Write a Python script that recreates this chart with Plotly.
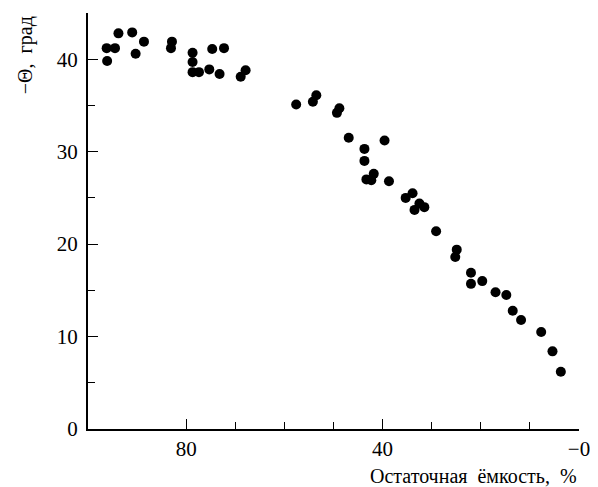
import plotly.graph_objects as go

# Data (residual capacity %, -Theta in degrees)
capacity = [96.2, 94.5, 96.1, 93.8, 91.0, 88.6, 90.3, 82.9, 83.1, 78.7,
            78.7, 78.7, 77.4, 75.3, 74.7, 72.3, 73.2, 68.9, 67.9,
            57.6, 54.2, 53.5, 49.3, 48.8, 46.9, 39.6, 43.7, 43.7, 41.8,
            43.3, 42.3, 38.7, 35.3, 33.9, 32.5, 31.5, 33.5, 29.1, 24.9,
            25.2, 22.0, 22.0, 19.7, 17.0, 14.8, 13.5, 11.8, 7.7, 5.4, 3.7]
theta = [41.2, 41.2, 39.8, 42.8, 42.9, 41.9, 40.6, 41.9, 41.2, 40.7,
         39.7, 38.6, 38.6, 38.9, 41.1, 41.2, 38.4, 38.1, 38.8,
         35.1, 35.4, 36.1, 34.2, 34.7, 31.5, 31.2, 30.3, 29.0, 27.6,
         27.0, 26.9, 26.8, 25.0, 25.5, 24.4, 24.0, 23.7, 21.4, 19.4,
         18.6, 16.9, 15.7, 16.0, 14.8, 14.5, 12.8, 11.8, 10.5, 8.4, 6.2]

x_tickvals = [80, 40, 0]
x_ticktext = ["80", "40", "\u22120"]
x_minor = [70, 60, 50, 30, 20, 10]
y_tickvals = [0, 10, 20, 30, 40]
y_minor = [5, 15, 25, 35]

FONT = "Liberation Serif"

fig = go.Figure(go.Scatter(
    x=capacity, y=theta, mode="markers",
    marker=dict(color="black", size=10),
    cliponaxis=False,
))

fig.update_layout(
    width=590, height=479,
    margin=dict(l=80, r=18.5, t=5, b=58.3),
    paper_bgcolor="white", plot_bgcolor="white",
    showlegend=False,
)

fig.update_xaxes(
    range=[100, 0], autorange=False,
    showgrid=False, zeroline=False,
    showline=True, linecolor="black", linewidth=2,
    ticks="inside", ticklen=10, tickwidth=1, tickcolor="black",
    tickmode="array", tickvals=x_tickvals, ticktext=x_ticktext,
    tickfont=dict(family=FONT, size=21, color="black"),
    minor=dict(tickmode="array", tickvals=x_minor, ticks="inside",
               ticklen=7, tickwidth=1, tickcolor="black", showgrid=False),
)
fig.update_yaxes(
    range=[0, 45], autorange=False,
    showgrid=False, zeroline=False,
    showline=True, linecolor="black", linewidth=2,
    ticks="inside", ticklen=10, tickwidth=1, tickcolor="black",
    tickmode="array", tickvals=y_tickvals,
    tickfont=dict(family=FONT, size=21, color="black"),
    ticklabelstandoff=4,
    minor=dict(tickmode="array", tickvals=y_minor, ticks="inside",
               ticklen=7, tickwidth=1, tickcolor="black", showgrid=False),
)

fig.add_annotation(
    text="Остаточная\u00a0\u00a0ёмкость,\u00a0\u00a0%",
    xref="paper", yref="paper", x=1, y=0,
    xanchor="right", yanchor="middle", yshift=-47,
    showarrow=False, font=dict(family=FONT, size=20, color="black"),
)
fig.add_annotation(
    text="\u2212\u0398,\u00a0\u00a0град",
    xref="paper", yref="paper", x=-0.128, y=0.899,
    xanchor="center", yanchor="middle", textangle=-90,
    showarrow=False, font=dict(family=FONT, size=20, color="black"),
)

fig.write_html("out.html")
